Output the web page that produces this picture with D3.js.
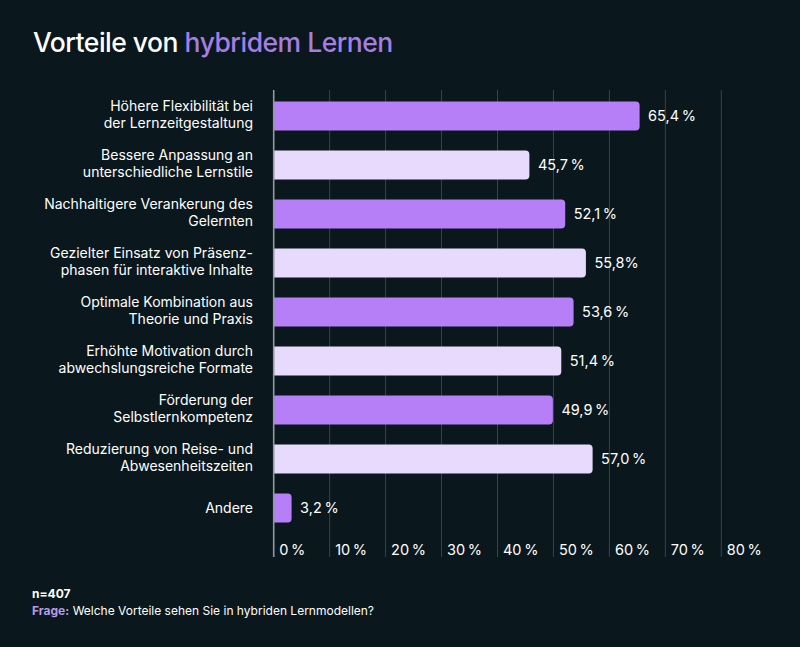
<!DOCTYPE html>
<html>
<head>
<meta charset="utf-8">
<script src="https://cdn.jsdelivr.net/npm/d3@7"></script>
<style>
    html, body { margin: 0; padding: 0; background: #0a181d; }
    svg { display: block; font-family: Inter, "Noto Sans", sans-serif; }
</style>
</head>
<body>
<div id="ChartDiv"></div>
<script>
const categories = [
    ["Höhere Flexibilität bei", "der Lernzeitgestaltung"],
    ["Bessere Anpassung an", "unterschiedliche Lernstile"],
    ["Nachhaltigere Verankerung des", "Gelernten"],
    ["Gezielter Einsatz von Präsenz-", "phasen für interaktive Inhalte"],
    ["Optimale Kombination aus", "Theorie und Praxis"],
    ["Erhöhte Motivation durch", "abwechslungsreiche Formate"],
    ["Förderung der", "Selbstlernkompetenz"],
    ["Reduzierung von Reise- und", "Abwesenheitszeiten"],
    ["Andere"]
];
const values = [65.4, 45.7, 52.1, 55.8, 53.6, 51.4, 49.9, 57.0, 3.2];
const valueLabels = ["65,4\u2009%", "45,7\u2009%", "52,1\u2009%", "55,8%", "53,6\u2009%", "51,4\u2009%", "49,9\u2009%", "57,0\u2009%", "3,2\u2009%"];
const ticks = [0, 10, 20, 30, 40, 50, 60, 70, 80];
const tickLabels = ["0\u2009%", "10\u2009%", "20\u2009%", "30\u2009%", "40\u2009%", "50\u2009%", "60\u2009%", "70\u2009%", "80\u2009%"];

const W = 800, H = 647;
const DARK = "#b67ef7", LIGHT = "#e8dafc";

function createChart() {
    const svg = d3.select("#ChartDiv").append("svg")
        .attr("width", W)
        .attr("height", H);

    svg.append("rect").attr("width", W).attr("height", H).attr("fill", "#0a181d");

    // title
    const title = svg.append("text")
        .attr("x", 33).attr("y", 52)
        .attr("font-size", 26.5)
        .attr("font-weight", 500)
        .attr("letter-spacing", -0.5)
        .attr("fill", "#ffffff");
    title.append("tspan").text("Vorteile von ");
    title.append("tspan").attr("fill", "#a67ee3").text("hybridem Lernen");

    const x = d3.scaleLinear().domain([0, 80]).range([273.7, 721.3]);
    const y = d3.scaleBand()
        .domain(d3.range(categories.length))
        .range([91.5, 532.5])
        .paddingInner(0.41)
        .paddingOuter(0.205);

    // grid
    svg.append("g").selectAll("line")
        .data(ticks.slice(1))
        .join("line")
        .attr("x1", d => x(d)).attr("x2", d => x(d))
        .attr("y1", 90).attr("y2", 557)
        .attr("stroke", "#34464b")
        .attr("stroke-width", 1);

    // bars
    svg.append("g").selectAll("path")
        .data(values)
        .join("path")
        .attr("fill", (d, i) => i % 2 === 0 ? DARK : LIGHT)
        .attr("d", (d, i) => {
            const x0 = x(0), x1 = x(d), y0 = y(i), h = y.bandwidth(), r = 4;
            return `M${x0},${y0}H${x1 - r}Q${x1},${y0} ${x1},${y0 + r}V${y0 + h - r}Q${x1},${y0 + h} ${x1 - r},${y0 + h}H${x0}Z`;
        });

    // zero line
    svg.append("line")
        .attr("x1", x(0)).attr("x2", x(0))
        .attr("y1", 90).attr("y2", 557)
        .attr("stroke", "#8f9a9d")
        .attr("stroke-width", 1.6);

    // value labels
    svg.append("g").selectAll("text")
        .data(values)
        .join("text")
        .attr("x", d => x(d) + 8.5)
        .attr("y", (d, i) => y(i) + y.bandwidth() / 2 + 5.3)
        .attr("font-size", 14.5)
        .attr("fill", "#ffffff")
        .text((d, i) => valueLabels[i]);

    // category labels
    const cat = svg.append("g").selectAll("text")
        .data(categories)
        .join("text")
        .attr("text-anchor", "end")
        .attr("font-size", 14)
        .attr("fill", "#ffffff")
        .attr("y", (d, i) => y(i) + y.bandwidth() / 2 + (d.length === 1 ? 4.5 : -5.2));
    cat.selectAll("tspan")
        .data(d => d)
        .join("tspan")
        .attr("x", 253)
        .attr("dy", (d, j) => j === 0 ? 0 : 17.6)
        .text(d => d);

    // tick labels
    svg.append("g").selectAll("text")
        .data(ticks)
        .join("text")
        .attr("x", d => x(d) + 5.5)
        .attr("y", 554.5)
        .attr("font-size", 14.5)
        .attr("fill", "#ffffff")
        .text((d, i) => tickLabels[i]);

    // footer
    svg.append("text")
        .attr("x", 32).attr("y", 597.5)
        .attr("font-size", 12)
        .attr("font-weight", 700)
        .attr("fill", "#ffffff")
        .text("n=407");
    const q = svg.append("text")
        .attr("x", 32).attr("y", 615)
        .attr("font-size", 12)
        .attr("fill", "#ffffff");
    q.append("tspan").attr("font-weight", 700).attr("fill", "#b69be8").text("Frage:");
    q.append("tspan").text(" Welche Vorteile sehen Sie in hybriden Lernmodellen?");
}

createChart();
</script>
</body>
</html>
